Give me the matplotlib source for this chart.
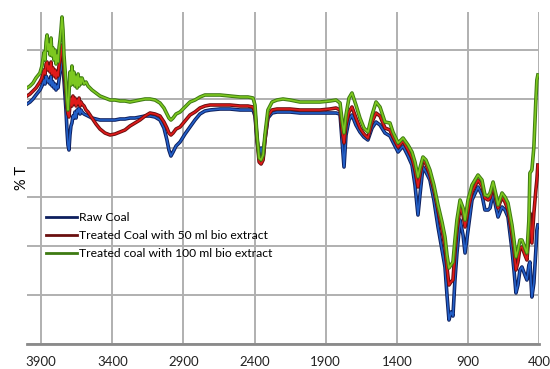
import numpy as np
import matplotlib.pyplot as plt
import matplotlib.patheffects as pe
from matplotlib.lines import Line2D
from matplotlib.ticker import MultipleLocator

plt.rcParams['font.family'] = ['Lato', 'DejaVu Sans']

# wavenumber (cm-1)
wn = [4000, 3979, 3958, 3937,
      3909, 3895, 3880, 3873, 3866, 3859, 3852, 3845, 3838, 3831,
      3824, 3817, 3810, 3803, 3796, 3789, 3782, 3775, 3768, 3761,
      3754, 3747, 3740, 3726, 3719, 3712, 3705, 3698, 3691, 3684,
      3677, 3670, 3663, 3655, 3648, 3641, 3634, 3627, 3620, 3613,
      3599, 3585, 3571,
      3543, 3515, 3487, 3452, 3416, 3381, 3346, 3311,
      3276, 3241, 3206, 3170, 3135, 3100, 3065, 3037, 3016, 3002,
      2988, 2973, 2952, 2924, 2889, 2854, 2819, 2784, 2749, 2713,
      2643, 2573, 2502, 2446, 2411, 2397, 2383, 2368, 2354, 2340,
      2327, 2306, 2277, 2242, 2200, 2151, 2081, 2010, 1940, 1870,
      1827, 1799, 1785, 1771, 1757, 1736, 1715, 1687, 1659, 1631,
      1603, 1574, 1546, 1518, 1483, 1448, 1427, 1391, 1356, 1321,
      1293, 1272, 1251, 1237, 1216, 1195, 1167, 1139, 1110, 1082,
      1061, 1047, 1033, 1019, 1005, 991, 977, 955, 934, 920,
      899, 871, 829, 801, 780, 758, 744, 723, 702, 688,
      660, 639, 618, 590, 576, 562, 548, 534, 520, 499,
      485, 471, 464, 450, 436, 422, 415, 408]

# % T (arbitrary units, no scale shown on the original)
green = [256, 258, 261, 266,
         271, 278, 292, 284, 302, 309, 294, 300, 289, 306,
         288, 296, 284, 294, 280, 289, 282, 296, 304, 314,
         327, 314, 289, 261, 244, 234, 249, 272, 259, 278,
         260, 272, 258, 268, 256, 270, 258, 266, 260, 266,
         260, 262, 258,
         254, 251, 248, 246, 244, 244, 243, 243,
         242, 243, 244, 245, 245, 244, 241, 236, 230, 226,
         224, 226, 230, 232, 237, 242, 244, 247, 249, 249,
         249, 248, 247, 247, 246, 239, 209, 186, 184, 189,
         209, 234, 242, 244, 245, 244, 242, 242, 242, 243,
         244, 241, 224, 211, 229, 246, 251, 239, 226, 216,
         212, 229, 242, 237, 222, 221, 212, 201, 206, 199,
         192, 182, 167, 176, 187, 184, 174, 159, 139, 122,
         107, 89, 76, 79, 82, 104, 124, 144, 136, 124,
         144, 159, 169, 164, 149, 148, 151, 162, 149, 139,
         151, 147, 141, 119, 104, 87, 94, 104, 104, 96,
         91, 124, 171, 174, 197, 244, 264, 269]

red = [248, 250, 253, 256,
       262, 266, 274, 270, 280, 282, 274, 278, 272, 282,
       270, 276, 268, 274, 266, 272, 268, 278, 284, 289,
       299, 292, 274, 251, 236, 230, 227, 239, 246, 238,
       248, 240, 246, 238, 244, 240, 246, 238, 242, 240,
       238, 234, 232,
       226, 220, 215, 211, 209, 210, 212, 214,
       218, 221, 224, 228, 231, 230, 228, 222, 216, 211,
       209, 211, 215, 217, 223, 229, 232, 236, 238, 239,
       239, 239, 238, 238, 237, 232, 206, 182, 180, 184,
       204, 228, 234, 235, 235, 235, 234, 234, 234, 235,
       236, 234, 214, 201, 219, 232, 237, 226, 216, 210,
       206, 222, 231, 228, 216, 214, 207, 197, 203, 194,
       186, 174, 157, 169, 184, 180, 169, 154, 134, 114,
       97, 76, 59, 62, 64, 92, 114, 136, 129, 117,
       134, 152, 164, 158, 146, 144, 146, 158, 144, 136,
       147, 142, 134, 109, 94, 74, 82, 96, 97, 89,
       84, 109, 131, 101, 131, 154, 164, 179]

blue = [240, 242, 245, 249,
        254, 258, 264, 260, 268, 266, 262, 264, 260, 268,
        258, 262, 256, 260, 254, 258, 256, 264, 272, 274,
        284, 278, 264, 234, 214, 199, 194, 209, 218, 221,
        228, 226, 232, 226, 234, 232, 236, 230, 234, 232,
        230, 229, 228,
        226, 225, 224, 224, 224, 224, 225, 225,
        226, 226, 227, 228, 228, 227, 224, 216, 204, 194,
        188, 192, 198, 202, 210, 217, 224, 230, 233, 234,
        235, 235, 234, 234, 234, 228, 204, 189, 196, 186,
        204, 226, 231, 232, 232, 232, 231, 231, 231, 231,
        231, 230, 204, 177, 209, 224, 229, 219, 212, 207,
        204, 216, 222, 219, 211, 208, 202, 192, 198, 188,
        179, 159, 129, 149, 177, 172, 164, 144, 117, 94,
        77, 49, 24, 32, 28, 64, 91, 124, 109, 91,
        114, 144, 157, 149, 134, 134, 136, 151, 136, 127,
        137, 134, 127, 94, 74, 51, 59, 74, 77, 69,
        64, 79, 82, 47, 61, 94, 114, 119]

series = [
    ("Raw Coal", blue, "#2360c8", "#0d1f5e"),
    ("Treated Coal with 50 ml bio extract", red, "#e01a1a", "#6a0f0f"),
    ("Treated coal with 100 ml bio extract", green, "#7dc820", "#3d7a12"),
]

fig = plt.figure(figsize=(5.5, 3.69), dpi=100)
ax = fig.add_axes([27 / 550, 25 / 369, 512 / 550, 332 / 369])

handles = []
for label, vals, face, edge in series:
    ax.plot(wn, vals, color=face, lw=1.2,
            path_effects=[pe.Stroke(linewidth=2.6, foreground=edge), pe.Normal()])
    handles.append(Line2D([], [], color=edge, lw=2, label=label))

ax.set_xlim(4000, 400)
ax.set_ylim(0, 332)
ax.set_xticks([3900, 3400, 2900, 2400, 1900, 1400, 900, 400])
ax.yaxis.set_major_locator(MultipleLocator(49))
ax.set_yticklabels([])
ax.tick_params(axis='both', length=0, labelsize=9.5, colors='#222222')
ax.tick_params(axis='x', pad=9)
ax.grid(True, color='#b0b0b0', lw=1.4)
ax.set_axisbelow(True)
for s in ['top', 'right', 'left']:
    ax.spines[s].set_visible(False)
ax.spines['bottom'].set_color('#8a8a8a')
ax.spines['bottom'].set_linewidth(2)

ax.set_ylabel("% T", fontsize=10.5)
ax.yaxis.set_label_coords(0.003, 0.5)

fig.legend(handles=handles, loc='upper left', bbox_to_anchor=(46 / 550, 1 - 212 / 369),
           frameon=False, fontsize=8.7, handlelength=2.6, handletextpad=0.15,
           labelspacing=0.57, borderpad=0, borderaxespad=0)

fig.savefig("out.png", dpi=100)
